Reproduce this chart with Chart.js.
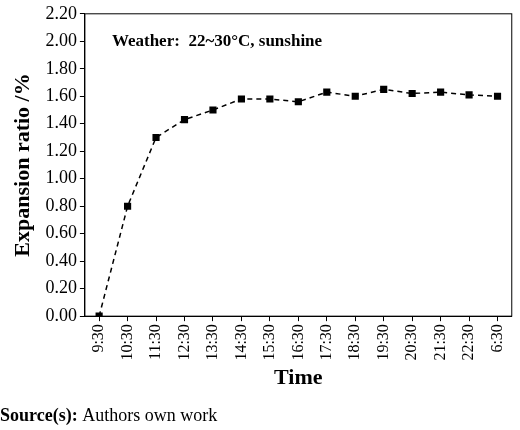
<!DOCTYPE html>
<html>
<head>
<meta charset="utf-8">
<script src="https://cdn.jsdelivr.net/npm/chart.js@4"></script>
<style>
  body { margin: 0; background: #fff; }
  #wrap { width: 520px; height: 430px; }
</style>
</head>
<body>
<div id="wrap"><canvas id="chart"></canvas></div>
<script>
const timeLabels = ["9:30", "10:30", "11:30", "12:30", "13:30", "14:30", "15:30", "16:30",
    "17:30", "18:30", "19:30", "20:30", "21:30", "22:30", "6:30"];
const expansionRatio = [0.00, 0.80, 1.30, 1.43, 1.50, 1.58, 1.58, 1.56,
    1.63, 1.60, 1.65, 1.62, 1.63, 1.61, 1.60];

const serif = "'Liberation Serif', 'Times New Roman', serif";

// box around the plot + the two pieces of loose text
const extras = {
    id: "extras",
    afterDraw(chart) {
        const { ctx, chartArea } = chart;
        ctx.save();
        ctx.strokeStyle = "#000";
        ctx.lineWidth = 1;
        ctx.strokeRect(chartArea.left, chartArea.top,
            chartArea.right - chartArea.left, chartArea.bottom - chartArea.top);
        ctx.fillStyle = "#000";
        ctx.font = "bold 17px " + serif;
        ctx.textBaseline = "middle";
        ctx.fillText("Weather:  22~30°C, sunshine", chartArea.left + 27, 42);
        ctx.font = "bold 18px " + serif;
        ctx.fillText("Source(s):", 0, 416);
        const w = ctx.measureText("Source(s): ").width;
        ctx.font = "18px " + serif;
        ctx.fillText("Authors own work", w, 416);
        ctx.restore();
    },
};

new Chart(document.getElementById("chart").getContext("2d"), {
    type: "line",
    data: {
        labels: timeLabels,
        datasets: [{
            data: expansionRatio,
            borderColor: "#000",
            backgroundColor: "#000",
            borderWidth: 1.5,
            borderDash: [5, 4],
            pointStyle: "rect",
            pointRadius: 4,
            tension: 0,
        }],
    },
    options: {
        responsive: true,
        maintainAspectRatio: false,
        animation: false,
        layout: { padding: { top: 12, right: 8, bottom: 36, left: 4 } },
        plugins: { legend: { display: false }, tooltip: { enabled: false } },
        scales: {
            x: {
                offset: true,
                grid: { drawOnChartArea: false, tickLength: 5, color: "#000" },
                border: { color: "#000" },
                ticks: { color: "#000", maxRotation: 90, minRotation: 90,
                    font: { family: serif, size: 16 } },
                title: { display: true, text: "Time", color: "#000", padding: 2,
                    font: { family: serif, size: 22, weight: "bold" } },
            },
            y: {
                min: 0,
                max: 2.2,
                grid: { drawOnChartArea: false, tickLength: 5, color: "#000" },
                border: { color: "#000" },
                ticks: { stepSize: 0.2, color: "#000",
                    callback: (v) => v.toFixed(2),
                    font: { family: serif, size: 18 } },
                title: { display: true, text: "Expansion ratio /%", color: "#000",
                    padding: 6,
                    font: { family: serif, size: 22, weight: "bold" } },
            },
        },
    },
    plugins: [extras],
});
</script>
</body>
</html>
